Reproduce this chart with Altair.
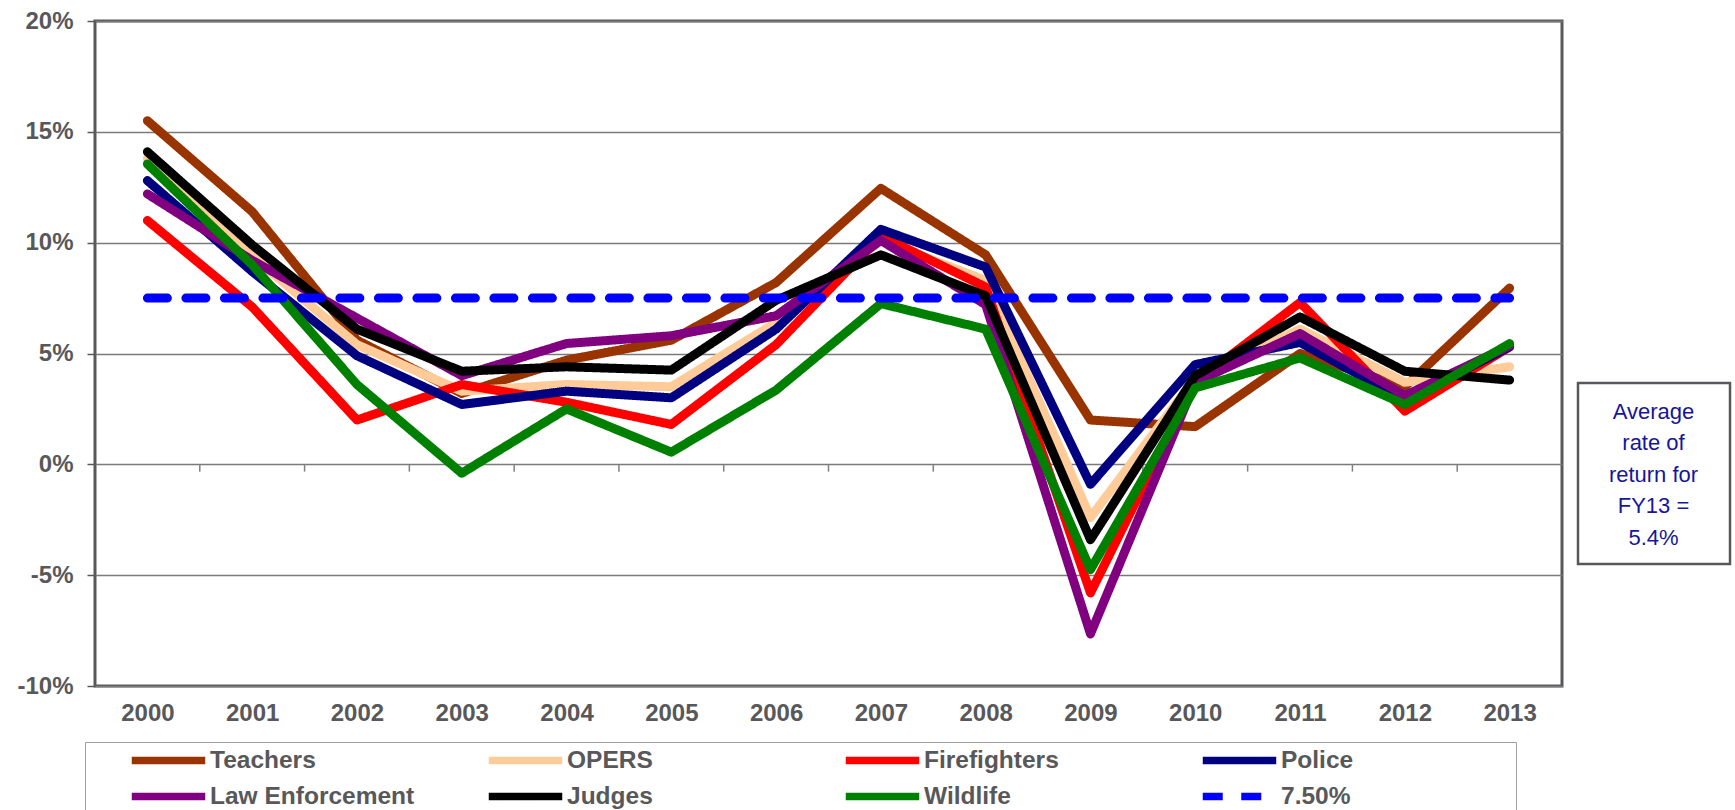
import altair as alt
import pandas as pd

years = list(range(2000, 2014))
series_names = ["Teachers", "OPERS", "Firefighters", "Police",
                "Law Enforcement", "Judges", "Wildlife", "7.50%"]
series_colors = ["#993300", "#FFCC99", "#FF0000", "#000080",
                 "#800080", "#000000", "#008000", "#0000FF"]
# legend is filled column by column (2 rows x 4 columns)
legend_order = ["Teachers", "Law Enforcement", "OPERS", "Judges",
                "Firefighters", "Wildlife", "Police", "7.50%"]

teachers = [15.5, 11.4, 5.6, 3.2, 4.7, 5.6, 8.2, 12.45, 9.45, 2.0, 1.7, 5.0, 3.5, 7.95]
opers = [13.8, 9.4, 5.4, 3.3, 3.6, 3.5, 6.4, 10.1, 8.3, -2.4, 3.9, 6.1, 3.7, 4.4]
firefighters = [11.0, 7.1, 2.0, 3.6, 2.8, 1.8, 5.4, 10.3, 8.0, -5.8, 3.7, 7.3, 2.4, 5.3]
police = [12.8, 8.7, 4.9, 2.7, 3.3, 3.0, 6.1, 10.6, 8.9, -0.9, 4.5, 5.5, 2.9, 5.3]
law_enforcement = [12.2, 9.2, 6.6, 4.0, 5.45, 5.8, 6.7, 10.1, 7.2, -7.65, 3.7, 5.9, 3.1, 5.35]
judges = [14.1, 9.9, 6.1, 4.2, 4.4, 4.25, 7.4, 9.45, 7.6, -3.4, 4.0, 6.65, 4.2, 3.8]
wildlife = [13.55, 9.0, 3.6, -0.4, 2.5, 0.55, 3.35, 7.25, 6.1, -4.75, 3.45, 4.8, 2.7, 5.45]
target = [7.5, 7.5, 7.5, 7.5, 7.5, 7.5, 7.5, 7.5, 7.5, 7.5, 7.5, 7.5, 7.5, 7.5]

y_ticks = [-10, -5, 0, 5, 10, 15, 20]
note_lines = ["Average", "rate of", "return for", "FY13 =", "5.4%"]

all_values = [teachers, opers, firefighters, police, law_enforcement, judges, wildlife, target]
rows = []
for name, vals in zip(series_names, all_values):
    for yr, v in zip(years, vals):
        rows.append({"year": yr, "value": v, "series": name})
df = pd.DataFrame(rows)

boundaries = pd.DataFrame({"b": [yr + 0.5 for yr in years[:-1]]})

color_of = dict(zip(series_names, series_colors))
dash_of = {n: ([20, 18.5] if n == "7.50%" else [1, 0]) for n in series_names}

TXT = "#58585A"
FONT = "Liberation Sans, Arial, sans-serif"

xscale = alt.Scale(domain=[1999.5, 2013.5], nice=False, zero=False)
yscale = alt.Scale(domain=[-10, 20], nice=False, zero=False)

x_enc = alt.X("year:Q", scale=xscale, title=None,
              axis=alt.Axis(values=years, format="d", ticks=False, domain=False,
                            grid=False, labelPadding=15.5))
y_enc = alt.Y("value:Q", scale=yscale, title=None,
              axis=alt.Axis(values=y_ticks, labelExpr="datum.value + '%'",
                            domain=False, grid=True, gridColor="#7A7A7A",
                            gridWidth=1.3, ticks=True, tickSize=8,
                            tickColor="#58585C", tickWidth=1.5, labelPadding=14))

legend = alt.Legend(title=" ", titleOrient="right", titlePadding=157, titleFontSize=1,
                    orient="none", legendX=-10, legendY=721,
                    columns=4, gridAlign="all", symbolType="stroke",
                    symbolSize=5400, symbolStrokeWidth=7.5, symbolOffset=37.5,
                    labelOffset=1, clipHeight=26, columnPadding=33,
                    rowPadding=10, padding=5.5, strokeColor="#A0A0A0",
                    fillColor="white", labelFont=FONT, labelFontSize=24.5,
                    labelFontWeight="bold", labelColor=TXT, labelLimit=500)

color_enc = alt.Color("series:N",
                      scale=alt.Scale(domain=legend_order,
                                      range=[color_of[n] for n in legend_order]),
                      legend=legend)
dash_enc = alt.StrokeDash("series:N",
                          scale=alt.Scale(domain=legend_order,
                                          range=[dash_of[n] for n in legend_order]),
                          legend=legend)

tick_layer = alt.Chart(boundaries).mark_rule(color="#808080", strokeWidth=1.5).encode(
    x=alt.X("b:Q", scale=xscale, title=None),
    y=alt.datum(0),
    y2=alt.datum(-0.33),
)

line_layers = []
for name in series_names:
    line_layers.append(
        alt.Chart(df).transform_filter(alt.datum.series == name)
        .mark_line(strokeWidth=9, strokeCap="round", strokeJoin="round")
        .encode(x=x_enc, y=y_enc, color=color_enc, strokeDash=dash_enc)
    )

note_df = pd.DataFrame({"k": [0]})
note_box = alt.Chart(note_df).mark_rect(fill="white", stroke="#58585C", strokeWidth=2.5).encode(
    x=alt.value(1483), x2=alt.value(1635), y=alt.value(362), y2=alt.value(543)
)
note_text = alt.Chart(note_df).mark_text(
    font="Liberation Sans, Arial, sans-serif",
    fontSize=22, color="#16169A", align="center", baseline="middle", lineHeight=31.5
).encode(x=alt.value(1558.5), y=alt.value(390.7), text=alt.value(note_lines))

chart = alt.layer(tick_layer, *line_layers, note_box, note_text).properties(
    width=1467, height=665,
    padding={"left": 95, "top": 21, "right": 173, "bottom": 124},
    autosize=alt.AutoSizeParams(type="none"),
).configure_view(
    stroke="#58585C", strokeWidth=3
).configure_axis(
    labelFont=FONT, labelFontSize=24, labelFontWeight="bold", labelColor=TXT
)

chart.save("out.html", embed_options={"renderer": "svg", "actions": False})
